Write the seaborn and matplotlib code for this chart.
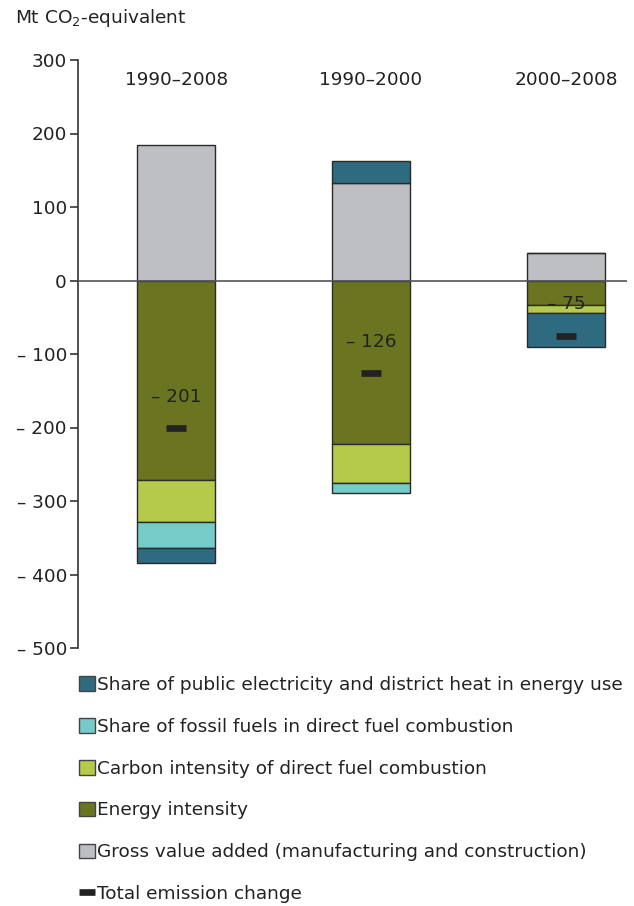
import numpy as np
import pandas as pd
import seaborn as sns
import matplotlib
matplotlib.use("Agg")
import matplotlib.pyplot as plt
from matplotlib.patches import Patch
from matplotlib.lines import Line2D

# ---- data ----
periods = ["1990\u20132008", "1990\u20132000", "2000\u20132008"]
gross_value_added = [184, 132, 37]
energy_intensity = [-272, -223, -34]
carbon_intensity = [-57, -53, -10]
fossil_share = [-35, -13, 0]
electricity_share = [-21, 31, -47]
total_change = [-201, -126, -75]
total_labels = ["\u2013 201", "\u2013 126", "\u2013 75"]
yticks = [300, 200, 100, 0, -100, -200, -300, -400, -500]
ytick_labels = ["300", "200", "100", "0", "\u2013 100", "\u2013 200", "\u2013 300", "\u2013 400", "\u2013 500"]

components = [
    ("Gross value added (manufacturing and construction)", gross_value_added, "#BEBFC3"),
    ("Energy intensity", energy_intensity, "#6B7521"),
    ("Carbon intensity of direct fuel combustion", carbon_intensity, "#B5CA4A"),
    ("Share of fossil fuels in direct fuel combustion", fossil_share, "#74CBC8"),
    ("Share of public electricity and district heat in energy use", electricity_share, "#2E6B80"),
]
legend_order = [4, 3, 2, 1, 0]

FS = 13.3

sns.set_theme(style="white")
plt.rcParams["font.family"] = ["DejaVu Sans"]
plt.rcParams["text.color"] = "#222222"

fig = plt.figure(figsize=(6.34, 9.06), dpi=100)
ax = fig.add_axes([78/634, 1-648/906, (627-78)/634, (648-60)/906])

pos_base = np.zeros(len(periods))
neg_base = np.zeros(len(periods))
for name, vals, col in components:
    vals = np.array(vals, dtype=float)
    bottoms = np.where(vals >= 0, pos_base, neg_base)
    df = pd.DataFrame({"period": periods, "value": vals})
    sns.barplot(data=df, x="period", y="value", order=periods, bottom=bottoms,
                color=col, saturation=1, width=0.4, edgecolor="#2a2a2a",
                linewidth=1.0, ax=ax, errorbar=None, zorder=2)
    pos_base = pos_base + np.where(vals > 0, vals, 0)
    neg_base = neg_base + np.where(vals < 0, vals, 0)

ax.axhline(0, color="#555555", lw=1.2, zorder=3)

tot_df = pd.DataFrame({"period": periods, "total": total_change})
sns.scatterplot(data=tot_df, x="period", y="total", marker="_", s=190,
                linewidth=4.8, color="#222222", ax=ax, zorder=5)
for i, (t, lab) in enumerate(zip(total_change, total_labels)):
    ax.text(i, t + 43, lab, ha="center", va="center", fontsize=FS,
            color="#222222", zorder=6)

for i, p in enumerate(periods):
    ax.text(i, 273, p, ha="center", va="center", fontsize=FS, color="#222222")

ax.set_xlim(-0.503, 2.313)
ax.set_ylim(-500, 300)
ax.set_yticks(yticks)
ax.set_yticklabels(ytick_labels, fontsize=FS, color="#222222")
ax.set_xticks([])
ax.set_xlabel("")
ax.set_ylabel("")
for s in ["top", "right", "bottom"]:
    ax.spines[s].set_visible(False)
ax.spines["left"].set_color("#333333")
ax.spines["left"].set_linewidth(1.2)
ax.tick_params(axis="y", direction="out", length=6, width=1.2, color="#333333",
               left=True, pad=2)

fig.text(15/634, 1-18/906, "Mt CO$_2$-equivalent", fontsize=FS,
         ha="left", va="center", color="#222222")

handles = [Patch(facecolor=components[i][2], edgecolor="#444444", lw=1.0) for i in legend_order]
labels = [components[i][0] for i in legend_order]
handles.append(Line2D([], [], color="#222222", lw=4.8, solid_capstyle="butt"))
labels.append("Total emission change")
fig.legend(handles, labels, loc="upper left", bbox_to_anchor=(79/634, 1-676/906),
           frameon=False, fontsize=FS, handlelength=0.85, handleheight=0.85,
           handletextpad=0.12, labelspacing=1.29, borderpad=0, borderaxespad=0)

fig.savefig("out.png", dpi=100)
